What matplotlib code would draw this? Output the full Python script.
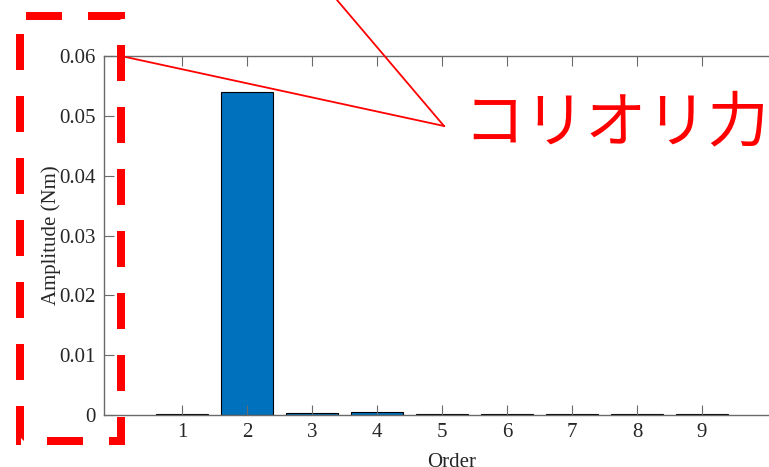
import matplotlib
matplotlib.use("Agg")
import matplotlib.pyplot as plt
from matplotlib.lines import Line2D

plt.rcParams["lines.scale_dashes"] = False

# Data
orders = [1, 2, 3, 4, 5, 6, 7, 8, 9]
amplitudes = [0.0002, 0.0540, 0.0004, 0.0005, 0.0002, 0.0001, 0.0001, 0.0001, 0.0001]
yticks = [0, 0.01, 0.02, 0.03, 0.04, 0.05, 0.06]
ytick_labels = ["0", "0.01", "0.02", "0.03", "0.04", "0.05", "0.06"]
annotation_text = "コリオリ力が"

W, H = 769, 467
fig = plt.figure(figsize=(W / 100, H / 100), dpi=100)

def fx(px):
    return px / W

def fy(py):
    return 1 - py / H

ax_left, ax_right, ax_top, ax_bottom = 104, 800, 56, 415
ax = fig.add_axes([fx(ax_left), fy(ax_bottom), fx(ax_right - ax_left), (ax_bottom - ax_top) / H])

ax.bar(orders, amplitudes, width=0.8, color="#0072BD", edgecolor="black", linewidth=0.8)

ax.set_xlim(-0.2, -0.2 + (ax_right - ax_left) / 65.0)
ax.set_ylim(0, 0.06)
ax.set_xticks(orders)
ax.set_xticklabels([str(o) for o in orders])
ax.set_yticks(yticks)
ax.set_yticklabels(ytick_labels)

serif = ["Liberation Serif", "DejaVu Serif"]
for lab in ax.get_xticklabels() + ax.get_yticklabels():
    lab.set_family(serif)
    lab.set_fontsize(15)
    lab.set_color("#262626")

ax.tick_params(direction="in", length=7, width=0.8, color="#6a6a6a",
               top=True, right=True, pad=6)
for s in ax.spines.values():
    s.set_color("#6a6a6a")
    s.set_linewidth(1.0)

ax.set_xlabel("Order", family=serif, fontsize=15, color="#262626", labelpad=8)
ax.set_ylabel("Amplitude (Nm)", family=serif, fontsize=15, color="#262626", labelpad=-1)

# Red annotations (figure pixel coordinates)
red = "#FF0000"
fig.add_artist(Line2D([fx(121), fx(444)], [fy(56), fy(126)], color=red, lw=1.3,
                      transform=fig.transFigure))
fig.add_artist(Line2D([fx(444), fx(337 - 107 * 0.3)], [fy(126), fy(-126 * 0.3)], color=red, lw=1.3,
                      transform=fig.transFigure))

# Dashed box: path clockwise on screen starting at top-left
px2pt = 0.72
bx = [20, 121, 121, 20, 20]
by = [15.5, 15.5, 441, 441, 15.5]
box = Line2D([fx(x) for x in bx], [fy(y) for y in by], color=red,
             lw=8 * px2pt, transform=fig.transFigure,
             linestyle=(56 * px2pt, (36 * px2pt, 26 * px2pt)),
             dash_capstyle="butt", dash_joinstyle="miter")
fig.add_artist(box)

fig.text(fx(463), fy(125), annotation_text, color=red, fontsize=44, fontweight=400,
         family=["Noto Sans CJK JP", "DejaVu Sans"], va="center", ha="left")

fig.savefig("out.png", dpi=100)
